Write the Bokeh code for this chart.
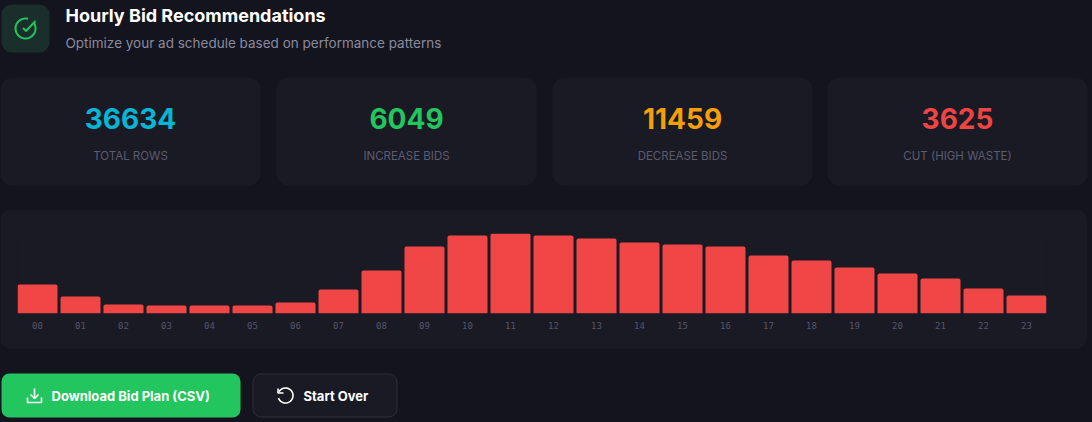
import math
from bokeh.core.properties import value
from bokeh.embed import file_html
from bokeh.layouts import column
from bokeh.models import FactorRange, Range1d
from bokeh.plotting import figure
from bokeh.resources import INLINE

# bar heights (no axis in the chart, so just relative)
hours = ["%02d" % h for h in range(24)]
bar_heights = [29, 17, 9, 8, 8, 8, 11, 24, 43, 67, 78, 80, 78, 75, 71, 69, 67, 58, 53, 46, 40, 35, 25, 18]

stat_values = ["36634", "6049", "11459", "3625"]
stat_labels = ["TOTAL ROWS", "INCREASE BIDS", "DECREASE BIDS", "CUT (HIGH WASTE)"]
stat_colors = ["#06b6d4", "#22c55e", "#f59e0b", "#ef4444"]
stat_lefts = [0, 276, 552, 827]

PAGE_BG = "#14141e"
CARD_BG = "#1a1a24"
FONT = value("Inter")


def blank_figure(width, height, y_top, y_bottom):
    """Figure with no axes where data units are pixels of the screenshot"""
    p = figure(width=width, height=height, x_range=Range1d(0, width), y_range=Range1d(y_bottom, y_top),
               x_axis_location=None, y_axis_location=None, toolbar_location=None, tools="",
               output_backend="svg", min_border=0, frame_align=False,
               background_fill_color=PAGE_BG, border_fill_color=PAGE_BG)
    p.grid.visible = False
    p.outline_line_color = None
    return p


def arc_path(cx, cy, r, start, end):
    angles = [math.radians(start + (end - start) * i / 40) for i in range(41)]
    return [cx + r * math.cos(a) for a in angles], [cy + r * math.sin(a) for a in angles]


# header and stat cards
top = blank_figure(1092, 209, 0, 209)
top.quad(left=1, right=49, top=4, bottom=52, fill_color="#1a2f2c", line_color=None, border_radius=10)
xs, ys = arc_path(25, 28, 10, -35, 285)
top.line(xs, ys, line_color="#22c55e", line_width=2)
top.line([22.5, 25.5, 35], [27.5, 30.5, 20.5], line_color="#22c55e", line_width=2)
top.text(x=[65], y=[15], text=["Hourly Bid Recommendations"], text_font=FONT, text_font_style="bold",
         text_font_size="18px", text_color="#ffffff", text_baseline="middle")
top.text(x=[65], y=[42], text=["Optimize your ad schedule based on performance patterns"], text_font=FONT,
         text_font_size="13.5px", text_color="#8a8a9e", text_baseline="middle")

for left, val, label, color in zip(stat_lefts, stat_values, stat_labels, stat_colors):
    top.quad(left=left, right=left + 260, top=77, bottom=185, fill_color=CARD_BG, line_color=None, border_radius=12)
    top.text(x=[left + 130], y=[118], text=[val], text_font=FONT, text_font_style="bold", text_font_size="28px",
             text_color=color, text_align="center", text_baseline="middle")
    top.text(x=[left + 130], y=[155], text=[label], text_font=FONT, text_font_size="11.5px", text_color="#5c5c70",
             text_align="center", text_baseline="middle")

# the bar chart
chart = figure(width=1087, height=140, x_range=FactorRange(*hours, range_padding=-0.035, range_padding_units="absolute"),
               y_range=Range1d(0, 80), y_axis_location=None, toolbar_location=None, tools="", output_backend="svg",
               min_border_left=17, min_border_right=41, min_border_top=24, min_border_bottom=36, frame_align=False,
               background_fill_color=CARD_BG, border_fill_color=CARD_BG,
               styles={"border-radius": "12px", "overflow": "hidden"})
chart.vbar(x=hours, top=bar_heights, width=40 / 43, fill_color="#f04646", line_color=None, border_radius=[2, 2, 0, 0])
chart.grid.visible = False
chart.outline_line_color = None
chart.xaxis.axis_line_color = None
chart.xaxis.major_tick_line_color = None
chart.xaxis.minor_tick_line_color = None
chart.xaxis.major_label_text_font = "DejaVu Sans Mono"
chart.xaxis.major_label_text_font_size = "9px"
chart.xaxis.major_label_text_color = "#55556a"
chart.xaxis.major_label_standoff = 2

# buttons
bottom = blank_figure(1092, 73, 349, 422)
bottom.quad(left=1, right=240, top=373, bottom=417, fill_color="#22c55e", line_color=None, border_radius=8)
bottom.quad(left=252.5, right=396.5, top=373.5, bottom=416.5, fill_color=CARD_BG, line_color="#2e2e3a", border_radius=8)
bottom.line([34, 34], [388, 398], line_color="#ffffff", line_width=1.6)
bottom.line([30, 34, 38], [394, 398, 394], line_color="#ffffff", line_width=1.6)
bottom.line([27, 27, 41, 41], [397, 402, 402, 397], line_color="#ffffff", line_width=1.6)
bottom.text(x=[51], y=[395], text=["Download Bid Plan (CSV)"], text_font=FONT, text_font_style="bold",
            text_font_size="13px", text_color="#ffffff", text_baseline="middle")
xs, ys = arc_path(285, 395, 7.5, -150, 160)
bottom.line(xs, ys, line_color="#ffffff", line_width=1.6)
bottom.line([277.5, 277.5, 283], [388, 392.5, 392.5], line_color="#ffffff", line_width=1.6)
bottom.text(x=[303], y=[395], text=["Start Over"], text_font=FONT, text_font_style="bold",
            text_font_size="13px", text_color="#ffffff", text_baseline="middle")

page = column(top, chart, bottom, spacing=0, width=1092, height=422,
              styles={"position": "fixed", "left": "0", "top": "0", "background-color": PAGE_BG})

open("out.html", "w").write(file_html(page, INLINE))
